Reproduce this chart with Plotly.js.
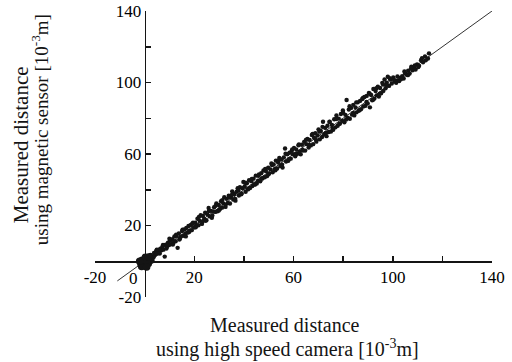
<!DOCTYPE html>
<html>
<head>
<meta charset="utf-8">
<script src="https://cdn.plot.ly/plotly-3.0.1.min.js"></script>
<style>html,body{margin:0;padding:0;background:#fff;}#chart{width:512px;height:362px;}</style>
</head>
<body>
<div id="chart"></div>
<script>
// Measured points: x = high speed camera, y = magnetic sensor (10^-3 m)
const camX = [
 0.8,1.2,1.6,2.1,2.5,2.9,3.3,3.8,4.2,4.6,5.0,5.4,5.9,6.3,6.8,7.2,7.6,8.1,8.5,9.0,9.4,9.8,
 10.3,10.7,11.2,11.6,12.0,12.5,12.9,13.3,13.8,14.2,14.6,15.1,15.5,16.0,16.4,16.8,17.3,17.7,18.1,18.6,19.0,19.5,19.9,
 20.4,20.8,21.3,21.7,22.2,22.6,23.1,23.5,24.0,24.4,24.9,25.3,25.8,26.2,26.7,27.1,27.6,28.0,28.5,28.9,29.4,
 29.9,30.3,30.8,31.2,31.7,32.1,32.6,33.0,33.5,33.9,34.4,34.8,35.3,35.7,36.2,36.6,37.1,37.5,38.0,38.4,38.9,
 39.4,39.8,40.3,40.7,41.2,41.6,42.1,42.5,43.0,43.4,43.9,44.3,44.8,45.2,45.7,46.1,46.6,47.0,47.5,47.9,48.4,
 48.9,49.3,49.8,50.2,50.7,51.1,51.6,52.0,52.5,52.9,53.4,53.8,54.3,54.7,55.2,55.6,56.1,56.6,57.0,57.5,57.9,58.4,
 58.9,59.3,59.8,60.2,60.7,61.1,61.6,62.0,62.5,62.9,63.4,63.8,64.3,64.7,65.2,65.6,66.1,66.5,67.0,67.4,67.9,68.3,
 68.8,69.2,69.7,70.1,70.6,71.0,71.5,71.9,72.4,72.8,73.3,73.7,74.2,74.6,75.1,75.5,76.0,76.4,76.9,77.3,77.8,78.2,
 78.7,79.1,79.6,80.0,80.5,80.9,81.4,81.8,82.3,82.7,83.2,83.6,84.1,84.5,85.0,85.4,85.9,86.3,86.8,87.2,87.7,88.1,
 88.6,89.0,89.5,89.9,90.4,90.8,91.3,91.7,92.2,92.6,93.1,93.5,94.0,94.4,94.9,95.3,95.8,96.2,96.7,97.1,97.6,98.0,
 98.5,99.0,99.6,100.2,100.8,101.4,102.0,102.6,103.2,103.8,104.4,105.0,105.6,106.2,106.8,107.4,108.0,108.6,109.2,109.8,110.6,111.4,112.2,113.0,114.2
];
const sensorY = [
 1.5,0.6,2.4,1.2,3.4,2.0,2.6,4.6,3.5,5.6,4.1,6.3,5.2,7.0,6.1,8.2,6.5,2.6,9.3,8.1,10.4,9.0,
 11.8,9.6,12.4,10.3,13.9,11.2,14.3,7.5,15.6,12.6,13.8,16.9,14.2,17.8,15.3,18.6,16.0,19.7,16.9,20.3,17.4,21.6,18.9,
 21.6,20.0,23.8,20.1,22.6,25.7,20.9,25.3,23.7,27.1,23.0,26.2,29.8,25.1,28.2,24.3,27.8,30.2,27.6,32.3,28.0,
 31.5,29.1,33.6,30.0,32.4,35.8,30.4,34.9,32.6,36.7,32.3,35.9,39.1,34.5,37.6,33.9,38.9,40.8,36.8,41.4,37.5,
 40.9,44.4,41.8,38.9,43.6,40.2,45.3,41.0,44.8,42.1,46.2,43.0,47.9,43.5,45.1,48.6,44.7,49.2,46.4,50.8,47.0,
 50.5,47.6,52.3,49.1,51.4,54.7,49.8,54.1,51.6,56.3,51.9,55.2,57.8,53.3,56.9,52.4,58.1,63.1,55.8,59.9,56.2,60.7,
 57.4,61.8,59.9,63.4,58.7,62.5,60.1,64.9,61.3,59.8,65.2,62.0,66.8,61.9,65.5,68.4,63.6,67.9,64.8,70.6,65.5,69.1,
 71.7,66.9,70.4,73.8,68.2,72.9,69.5,78.0,71.1,74.6,70.0,75.8,72.3,77.9,72.6,76.2,73.5,79.4,74.9,81.6,75.8,79.8,
 77.0,82.4,78.6,83.1,77.8,81.9,90.2,80.3,84.9,79.7,85.8,82.0,87.5,81.6,86.0,83.3,88.9,84.2,89.7,85.1,90.8,86.6,
 91.9,87.0,92.5,88.3,94.1,86.1,93.0,90.1,96.4,91.0,95.2,92.8,97.6,92.1,96.9,94.0,99.8,95.3,101.7,96.8,99.9,103.2,
 98.1,101.6,99.4,102.8,100.6,99.9,101.2,100.8,102.7,103.5,102.2,105.1,104.4,106.6,105.0,107.9,106.8,108.6,107.3,110.1,109.4,112.5,111.3,114.6,113.4
];
// second run of readings
const camX2 = [
 1.0,2.3,3.6,4.9,6.1,7.4,8.8,10.0,11.4,12.7,14.0,15.3,16.6,17.9,19.2,
 20.6,21.9,23.3,24.6,25.9,27.3,28.6,29.9,31.3,32.6,33.9,35.2,36.5,37.8,39.1,
 40.5,41.8,43.2,44.5,45.9,47.2,48.6,49.9,51.3,52.7,54.0,55.4,56.8,58.1,59.5,
 60.9,62.2,63.6,65.0,66.3,67.7,69.0,70.4,71.7,73.1,74.5,75.8,77.2,78.5,79.9,
 81.2,82.6,84.0,85.3,86.7,88.0,89.4,90.7,92.1,93.4,94.8,96.1,97.5,98.8,
 100.5,101.9,103.3,104.7,106.1,107.5,108.9,110.3,111.8,113.3,114.6
];
const sensorY2 = [
 2.2,3.5,2.2,6.4,4.3,9.1,7.1,12.6,9.4,14.9,12.1,17.6,13.9,16.3,21.0,
 19.0,24.8,22.1,22.6,28.1,25.6,31.0,28.4,34.2,31.5,35.6,37.2,34.9,39.6,37.9,
 43.9,40.6,46.1,42.9,47.8,46.2,51.7,48.7,53.8,50.9,56.4,54.0,60.1,57.1,62.6,
 60.0,65.3,62.4,67.9,65.1,71.2,68.1,72.5,75.2,71.8,78.1,74.3,79.6,76.9,84.4,
 79.3,86.7,83.0,88.9,84.6,91.4,89.1,93.7,90.4,96.8,93.8,98.9,98.2,102.4,
 101.5,103.4,101.8,106.2,104.1,108.8,109.5,108.7,113.6,112.4,116.3
];
// dense cluster of readings at the origin
const originX = [-1.5,-0.5,0.5,1.5,2.5,-1.0,0.0,1.0,2.0,-1.2,0.3,1.6,-2.0,0.8];
const originY = [-1.5,-2.5,-2.0,-1.2,0.5,0.5,1.0,-0.5,1.5,-3.0,2.2,2.4,0.0,-3.2];
// reference line y = x
const refX = [-11, 140];
const refY = [-11, 140];
// axes
const labelVals = [-20,20,60,100,140];
const labelText = ['-20','20','60','100','140'];
const originLabel = '0';
const xTitle1 = 'Measured distance';
const xTitle2 = 'using high speed camera [10<sup>-3</sup>m]';
const yTitle1 = 'Measured distance';
const yTitle2 = 'using magnetic sensor [10<sup>-3</sup>m]';

const serif = 'Liberation Serif, Times New Roman, serif';
const ink = '#141414';

const traces = [
  {x: refX, y: refY, mode: 'lines', line: {color: '#333', width: 1}, hoverinfo: 'skip'},
  {x: camX, y: sensorY, mode: 'markers', marker: {color: ink, size: 4.4}},
  {x: camX2, y: sensorY2, mode: 'markers', marker: {color: ink, size: 4.4}},
  {x: originX, y: originY, mode: 'markers', marker: {color: ink, size: 7.5}}
];

const axisCommon = {
  range: [-20, 140], domain: [0, 1], anchor: 'free', position: 0.125,
  showline: true, linecolor: ink, linewidth: 1.8,
  ticks: 'inside', ticklen: 5, tickwidth: 1.5, tickcolor: ink,
  tickmode: 'array', tickvals: labelVals, ticktext: labelText,
  minor: {tickmode: 'linear', tick0: 0, dtick: 20, ticks: 'inside', ticklen: 5, tickwidth: 1.5, tickcolor: ink, showgrid: false},
  showgrid: false, zeroline: false, automargin: false,
  tickfont: {family: serif, size: 17, color: '#000'}
};

const layout = {
  width: 512, height: 362,
  margin: {l: 95, r: 20, t: 11, b: 65, pad: 0},
  paper_bgcolor: '#fff', plot_bgcolor: '#fff',
  showlegend: false,
  xaxis: Object.assign({}, axisCommon, {side: 'bottom'}),
  yaxis: Object.assign({}, axisCommon, {side: 'left'}),
  annotations: [
    {text: originLabel, xref: 'paper', yref: 'paper', x: 0.098, y: 0.066, xanchor: 'center', yanchor: 'middle', showarrow: false, font: {family: serif, size: 17, color: '#000'}},
    {text: xTitle1, xref: 'paper', yref: 'paper', x: 0.479, y: -0.099, xanchor: 'center', yanchor: 'middle', showarrow: false, font: {family: serif, size: 20, color: ink}},
    {text: xTitle2, xref: 'paper', yref: 'paper', x: 0.484, y: -0.18, xanchor: 'center', yanchor: 'middle', showarrow: false, font: {family: serif, size: 20, color: ink}},
    {text: yTitle1, xref: 'paper', yref: 'paper', x: -0.186, y: 0.531, xanchor: 'center', yanchor: 'middle', textangle: -90, showarrow: false, font: {family: serif, size: 21, color: ink}},
    {text: yTitle2, xref: 'paper', yref: 'paper', x: -0.138, y: 0.584, xanchor: 'center', yanchor: 'middle', textangle: -90, showarrow: false, font: {family: serif, size: 19, color: ink}}
  ]
};

Plotly.newPlot('chart', traces, layout, {staticPlot: true, displayModeBar: false});
</script>
</body>
</html>
